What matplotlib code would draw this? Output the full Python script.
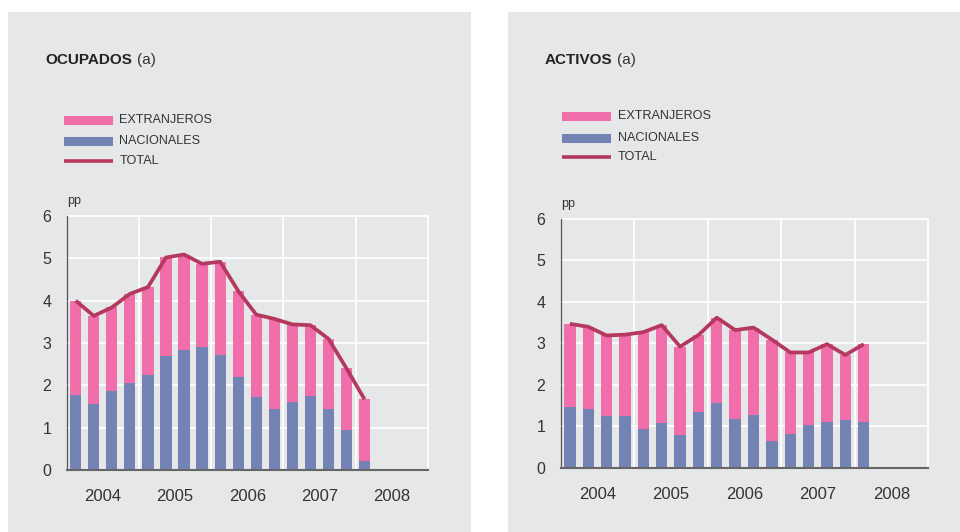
import matplotlib
matplotlib.use("Agg")
import matplotlib.pyplot as plt
from matplotlib.patches import Rectangle
import numpy as np

plt.rcParams['font.family'] = ['Liberation Sans', 'DejaVu Sans']

quarters = ['2004 I', '2004 II', '2004 III', '2004 IV',
            '2005 I', '2005 II', '2005 III', '2005 IV',
            '2006 I', '2006 II', '2006 III', '2006 IV',
            '2007 I', '2007 II', '2007 III', '2007 IV',
            '2008 I']
years = ['2004', '2005', '2006', '2007', '2008']

# OCUPADOS
ocu_nacionales = [1.77, 1.56, 1.87, 2.06, 2.24, 2.70, 2.83, 2.91, 2.72, 2.20,
                  1.72, 1.43, 1.61, 1.75, 1.43, 0.95, 0.21]
ocu_total = [4.00, 3.64, 3.84, 4.16, 4.32, 5.02, 5.09, 4.87, 4.92, 4.23,
             3.67, 3.57, 3.44, 3.42, 3.10, 2.40, 1.67]
ocu_extranjeros = [t - n for t, n in zip(ocu_total, ocu_nacionales)]

# ACTIVOS
act_nacionales = [1.46, 1.42, 1.25, 1.25, 0.93, 1.08, 0.79, 1.34, 1.56, 1.17,
                  1.27, 0.64, 0.81, 1.03, 1.10, 1.15, 1.10]
act_total = [3.47, 3.40, 3.19, 3.21, 3.27, 3.44, 2.92, 3.20, 3.62, 3.32,
             3.38, 3.09, 2.78, 2.78, 2.98, 2.72, 2.98]
act_extranjeros = [t - n for t, n in zip(act_total, act_nacionales)]

C_EXT = '#f06ea9'
C_NAC = '#7384b4'
C_TOT = '#b5385f'
BG = '#e6e7e8'
TXT = '#333333'

W, H = 960, 532
fig = plt.figure(figsize=(9.6, 5.32), dpi=100, facecolor='white')

# grey panels
fig.patches.append(Rectangle((8 / W, 0), (471 - 8) / W, 1 - 12 / H,
                             transform=fig.transFigure, facecolor=BG, edgecolor='none', zorder=-5))
fig.patches.append(Rectangle((508 / W, 0), (960 - 508) / W, 1 - 12 / H,
                             transform=fig.transFigure, facecolor=BG, edgecolor='none', zorder=-5))


def panel(rect, title, nac, ext, tot, title_x, leg_x, leg_ys, text_x):
    ax = fig.add_axes(rect)
    ax.set_facecolor(BG)
    x = (np.arange(len(quarters)) + 0.5) / 4.0
    ax.bar(x, nac, width=0.155, color=C_NAC, zorder=3)
    ax.bar(x, ext, bottom=nac, width=0.155, color=C_EXT, zorder=3)
    ax.plot(x, tot, color=C_TOT, lw=2.7, zorder=4, solid_capstyle='butt')
    ax.set_xlim(0, 5)
    ax.set_ylim(0, 6)
    ax.set_yticks(range(0, 7))
    ax.set_xticks(np.arange(len(years)) + 0.5)
    ax.set_xticklabels(years)
    for v in range(1, 6):
        ax.axvline(v, color='white', lw=1.3, zorder=1, clip_on=False)
    for v in range(1, 7):
        ax.axhline(v, color='white', lw=1.3, zorder=1, clip_on=False)
    ax.tick_params(length=0, colors=TXT)
    ax.tick_params(axis='y', pad=11, labelsize=11.5)
    ax.tick_params(axis='x', pad=14, labelsize=12)
    for s in ['top', 'right']:
        ax.spines[s].set_visible(False)
    ax.spines['left'].set_color('#555555')
    ax.spines['left'].set_linewidth(0.9)
    ax.spines['bottom'].set_color('#666666')
    ax.spines['bottom'].set_linewidth(1.5)
    ax.spines['left'].set_zorder(5)
    ax.spines['bottom'].set_zorder(5)
    ax.text(0.0, 1.035, 'pp', transform=ax.transAxes, fontsize=9, color=TXT,
            ha='left', va='bottom')

    # title
    fig.text(title_x / W, 1 - 60 / H, title, fontsize=11, fontweight='bold',
             color='#222222', ha='left', va='center')
    # legend
    x0, x1 = leg_x
    for (yc, kind, lab) in zip(leg_ys, ['ext', 'nac', 'tot'],
                               ['EXTRANJEROS', 'NACIONALES', 'TOTAL']):
        if kind == 'tot':
            fig.add_artist(plt.Line2D([x0 / W, x1 / W], [1 - yc / H, 1 - yc / H],
                                      color=C_TOT, lw=2.6, transform=fig.transFigure,
                                      solid_capstyle='butt'))
        else:
            col = C_EXT if kind == 'ext' else C_NAC
            fig.patches.append(Rectangle((x0 / W, 1 - (yc + 4.5) / H), (x1 - x0) / W, 9 / H,
                                         transform=fig.transFigure, facecolor=col,
                                         edgecolor='none'))
        fig.text(text_x / W, 1 - yc / H, lab, fontsize=9.1, color=TXT,
                 ha='left', va='center')
    return ax


panel([66.7 / W, 1 - 470 / H, (427.7 - 66.7) / W, (470 - 216) / H],
      'OCUPADOS', ocu_nacionales, ocu_extranjeros, ocu_total,
      45.7, (64, 113), (120.3, 141.3, 160.7), 119.3)
panel([560.7 / W, 1 - 467.7 / H, (928 - 560.7) / W, (467.7 - 219) / H],
      'ACTIVOS', act_nacionales, act_extranjeros, act_total,
      545, (562, 611), (116.3, 138.3, 156.7), 618)

# "(a)" suffix after titles
r = fig.canvas.get_renderer()
for t in list(fig.texts):
    if t.get_text() in ('OCUPADOS', 'ACTIVOS'):
        bb = t.get_window_extent(renderer=r)
        fig.text((bb.x1 + 4) / W, 1 - 60 / H, '(a)', fontsize=11, color=TXT,
                 ha='left', va='center')

fig.savefig('out.png', dpi=100, facecolor='white')
